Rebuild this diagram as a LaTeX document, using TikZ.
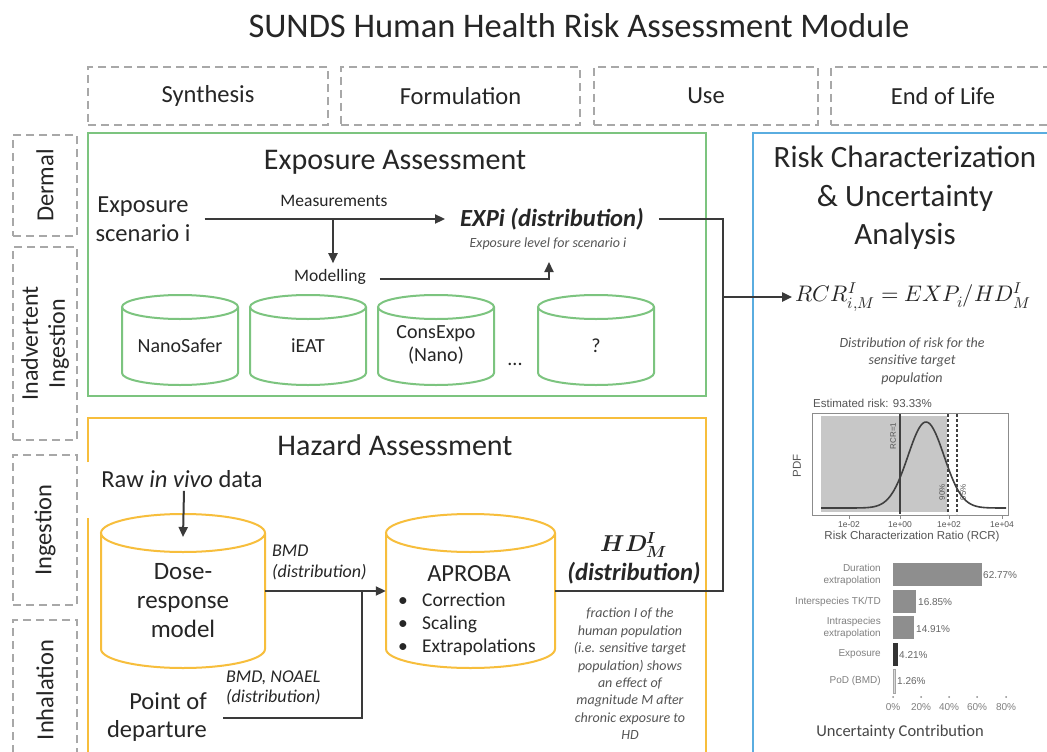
\documentclass[tikz,border=0pt]{standalone}
\usepackage{fontspec}
\usepackage{unicode-math}
\setmainfont{Carlito}
\newfontfamily\plotfont{Liberation Sans}
\usetikzlibrary{arrows.meta,calc}
\definecolor{dashgray}{HTML}{A8A8A8}
\definecolor{mygreen}{HTML}{7CC47F}
\definecolor{myorange}{HTML}{F7BE3C}
\definecolor{myblue}{HTML}{5AADE0}
\definecolor{ink}{HTML}{3A3A3A}
\definecolor{txt}{HTML}{262626}
\definecolor{softtxt}{HTML}{555555}
\definecolor{bargray}{HTML}{8E8E8E}
\newcommand\fs[2]{\fontsize{#1}{#2}\selectfont}
% cylinder: name, x1, y1, x2, y2, ry, colour
\newcommand\cyl[7]{%
  \pgfmathsetmacro\cw{#4-#2}%
  \pgfmathsetmacro\ch{#5-#3}%
  \pgfmathsetmacro\crx{(#4-#2)/2}%
  \pgfmathsetmacro\ccx{(#2+#4)/2}%
  \pgfmathsetmacro\ccy{(#3+#5)/2}%
  \draw[#7, line width=2pt, fill=white] (#2,#3+#6) -- (#2,#5-#6)
     arc[start angle=180, end angle=360, x radius=\crx pt, y radius=#6pt] -- (#4,#3+#6);
  \draw[#7, line width=2pt] (\ccx,#3+#6) ellipse [x radius=\crx pt, y radius=#6pt];
  \node[minimum width=\cw pt, minimum height=\ch pt, inner sep=0pt] (#1) at (\ccx,\ccy) {};
  \coordinate (#1-top) at (\ccx,#3+#6);
}
\tikzset{
  dashbox/.style={draw=dashgray, line width=1.8pt, dash pattern=on 8pt off 5pt},
  body/.style={font=\fs{24.5}{28.5}, text=txt},
  heading/.style={font=\fs{30}{38}, text=txt},
  small/.style={font=\fs{17.5}{20}, text=txt},
  note/.style={font=\itshape\fs{14}{17.4}, text=softtxt, align=center},
  conn/.style={draw=ink, line width=2pt},
  arr/.style={conn, -{Triangle[length=10pt,width=9pt]}},
  cyltxt/.style={font=\fs{20}{23}, text=txt, align=center},
  ptxt/.style={font=\plotfont\fs{11.5}{13}, text=softtxt},
  btxt/.style={font=\plotfont\fs{10}{12.5}, text=black!50},
}
\begin{document}
\begin{tikzpicture}[x=1pt,y=-1pt, every node/.style={inner sep=0pt}]
\useasboundingbox (0,0) rectangle (1047,752);
\clip (0,0) rectangle (1047,752);
\fill[white] (0,0) rectangle (1047,752);

% title
\node[font=\fs{34.5}{40}, text=txt] (title) at (579,26) {SUNDS Human Health Risk Assessment Module};

% life-cycle stages
\node[dashbox, body, minimum width=240pt, minimum height=58pt] (syn) at (208,96) {Synthesis};
\node[dashbox, body, minimum width=239pt, minimum height=58pt] (form) at (460.5,96) {Formulation};
\node[dashbox, body, minimum width=224pt, minimum height=58pt] (use) at (706,96) {Use};
\node[dashbox, body, minimum width=224pt, minimum height=58pt] (eol) at (943,96) {End of Life};

% exposure routes
\node[dashbox, minimum width=64pt, minimum height=101pt] (derm) at (45,185.5) {};
\node[body, rotate=90] at (derm) {Dermal};
\node[dashbox, minimum width=64pt, minimum height=193pt] (inadv) at (45,343.5) {};
\node[body, rotate=90, align=center, font=\fs{24}{27}] at (inadv) {Inadvertent\\Ingestion};
\node[dashbox, minimum width=64pt, minimum height=150pt] (ing) at (45,530) {};
\node[body, rotate=90] at (ing) {Ingestion};
\node[dashbox, minimum width=64pt, minimum height=150pt] (inh) at (45,695) {};
\node[body, rotate=90] at (45,690) {Inhalation};

% ---------------- Exposure assessment
\node[draw=mygreen, line width=2pt, minimum width=618pt, minimum height=263pt] (expbox) at (397,264.5) {};
\node[heading] (exptitle) at (395,162) {Exposure Assessment};
\node[body, align=center] (scen) at (143,219) {Exposure\\scenario i};
\node[small] (meas) at (334,201) {Measurements};
\node[font=\bfseries\itshape\fs{24.6}{28}, text=txt] (expi) at (552,219) {EXPi (distribution)};
\node[note] (explevel) at (548,244) {Exposure level for scenario i};
\node[small] (model) at (330,277) {Modelling};
\coordinate (mj) at (333,219);
\coordinate (modend) at (549,262);
\draw[arr] ($(scen.east)+(14,0)$) -- ($(expi.west)+(-15,0)$);
\draw[arr] (mj) -- ($(model.north -| mj)+(0,-6)$);
\draw[arr] ($(model.east)+(14,2)$) -| (modend);

\cyl{nano}{122}{295}{238}{385}{12}{mygreen}
\node[cyltxt] at ($(nano.center)+(0,6)$) {NanoSafer};
\cyl{ieat}{250}{295}{366}{385}{12}{mygreen}
\node[cyltxt] at ($(ieat.center)+(0,6)$) {iEAT};
\cyl{consexpo}{378}{295}{494}{385}{12}{mygreen}
\node[cyltxt] at ($(consexpo.center)+(0,5)$) {ConsExpo\\(Nano)};
\node[cyltxt] (dots) at (515,364) {...};
\cyl{unknown}{538}{295}{654}{385}{12}{mygreen}
\node[cyltxt] at ($(unknown.center)+(0,6)$) {?};

% ---------------- Hazard assessment
\draw[myorange, line width=2pt] (88,462) -- (88,418) -- (706,418) -- (706,770);
\draw[myorange, line width=2pt] (88,518) -- (88,770);
\node[heading] (haztitle) at (395,445) {Hazard Assessment};
\node[body] (raw) at (182,479) {Raw \textit{in vivo} data};

\cyl{dose}{101}{514}{265}{668}{19}{myorange}
\node[body, align=center, font=\fs{25}{29}] at ($(dose.center)+(0,10)$) {Dose-\\response\\model};
\cyl{aproba}{386}{514}{555}{668}{19}{myorange}
\node[body] (aprobatitle) at (469,574) {APROBA};
\node[anchor=west, align=left, font=\fs{19.5}{23}, text=txt] (aprobalist) at (398,624)
  {\makebox[24pt][l]{•}Correction\\\makebox[24pt][l]{•}Scaling\\\makebox[24pt][l]{•}Extrapolations};

\draw[arr] ($(raw.south)+(2,3)$) -- ($(dose-top)+(0,4)$);
\node[anchor=west, align=left, font=\itshape\fs{18}{21}, text=txt] (bmd) at (272,562) {BMD\\(distribution)};
\draw[arr] (dose.east) -- (aproba.west);

\node[body, align=right, anchor=east] (pod) at (207,717) {Point of\\departure};
\node[anchor=west, align=left, font=\itshape\fs{18}{20.5}, text=txt] (bmdnoael) at (226,688) {BMD, NOAEL\\(distribution)};
\coordinate (podj) at (362,591);
\draw[conn] ($(pod.east)+(16,1)$) -| (podj);

\node[font=\fs{23}{28}, text=txt] (hd) at (634,545) {$\symbfit{HD}^{\symbfit{I}}_{\symbfit{M}}$};
\node[font=\bfseries\itshape\fs{24.6}{28}, text=txt] (hddist) at (634,573) {(distribution)};
\node[note] (fraction) at (630,674) {fraction I of the\\human population\\(i.e. sensitive target\\population) shows\\an effect of\\magnitude M after\\chronic exposure to\\HD};

% ---------------- Risk characterisation
\draw[myblue, line width=2.5pt] (753,770) -- (753,133) -- (1060,133);
\node[align=center, font=\fs{31}{38.5}, text=txt] (risktitle) at (905,198) {Risk Characterization\\\& Uncertainty\\Analysis};
\node[font=\fs{22.5}{28}, text=txt] (rcr) at (913,297) {$RCR^{I}_{i,M} = EXP_{i}/HD^{I}_{M}$};
\node[note] (distrisk) at (912,361) {Distribution of risk for the\\sensitive target\\population};

\coordinate (join) at (723,297);
\draw[conn] ($(expi.east)+(15,0)$) -| (join);
\draw[conn] (aproba.east) -| (join);
\draw[arr] (join) -- ($(rcr.west)+(-3,0)$);

% PDF plot
\node[ptxt, anchor=west] (estrisk) at (813,403) {Estimated risk: 93.33\%};
\fill[black!22] (821,416) rectangle (947,511.5);
\draw[black!45, line width=1pt] (812,413) rectangle (1008,515);
\draw[black!75, line width=1.6pt] plot[domain=821:1006, samples=120] (\x, {508 - 86*exp(-((\x-926)^2)/648)});
\draw[black!75, line width=1.4pt] (900,414) -- (900,514);
\draw[black!75, line width=1.2pt, dash pattern=on 3pt off 2pt] (948,414) -- (948,514);
\draw[black!75, line width=1.2pt, dash pattern=on 3pt off 2pt] (957,414) -- (957,514);
\node[ptxt, font=\plotfont\fs{8}{9}, rotate=90] at (893,436) {RCR=1};
\node[ptxt, font=\plotfont\fs{8}{9}, rotate=90] at (942,492) {90\%};
\node[ptxt, font=\plotfont\fs{8}{9}, rotate=90] at (963,492) {95\%};
\foreach \tx/\tl in {849/1e-02, 900/1e+00, 949/1e+02, 1002/1e+04}{
  \draw[black!45, line width=0.8pt] (\tx,515) -- (\tx,519);
  \node[ptxt, font=\plotfont\fs{8.5}{10}] at (\tx,524.5) {\tl};
}
\node[ptxt, rotate=90] (pdf) at (797,466) {PDF};
\node[ptxt] (rcrlabel) at (912,537) {Risk Characterization Ratio (RCR)};

% Bar chart
\fill[bargray] (893,563) rectangle (982,586);
\fill[bargray] (893,590) rectangle (916,613);
\fill[bargray] (893,616) rectangle (914,639);
\fill[black!80] (893,643) rectangle (898,666);
\filldraw[fill=black!15, draw=black!35, line width=0.6pt] (893,669) rectangle (895,693);
\node[btxt, anchor=east, align=right] at (881,575) {Duration\\extrapolation};
\node[btxt, anchor=east] at (881,602) {Interspecies TK/TD};
\node[btxt, anchor=east, align=right] at (881,628) {Intraspecies\\extrapolation};
\node[btxt, anchor=east] at (881,654) {Exposure};
\node[btxt, anchor=east] at (881,681) {PoD (BMD)};
\node[btxt, text=black!60, anchor=west] at (983,575) {62.77\%};
\node[btxt, text=black!60, anchor=west] at (918,602) {16.85\%};
\node[btxt, text=black!60, anchor=west] at (916,629) {14.91\%};
\node[btxt, text=black!60, anchor=west] at (899,655) {4.21\%};
\node[btxt, text=black!60, anchor=west] at (897,681) {1.26\%};
\foreach \tx/\tl in {893/0, 921/20, 949/40, 977/60, 1006/80}{
  \fill[black!45] (\tx,697) circle[radius=1pt];
  \node[btxt] at (\tx,707) {\tl\%};
}
\node[font=\fs{16.5}{20}, text=black!72] (uncert) at (900,732) {Uncertainty Contribution};
\end{tikzpicture}
\end{document}
